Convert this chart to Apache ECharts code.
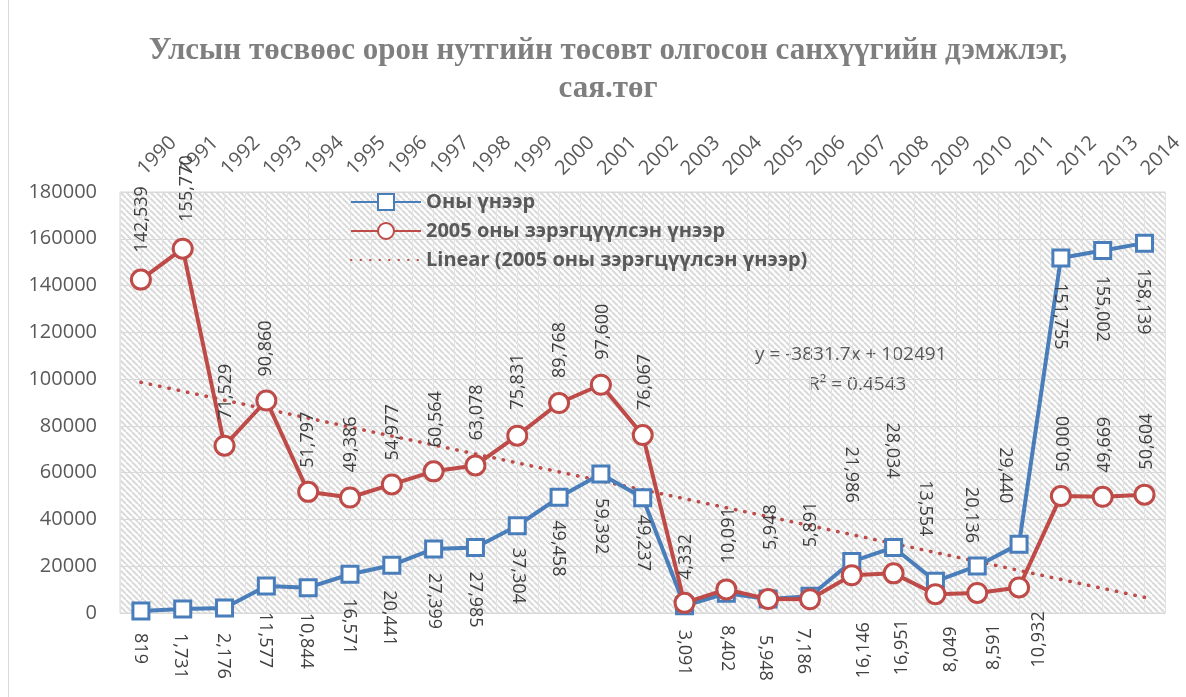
<!DOCTYPE html>
<html lang="mn">
<head>
    <meta charset="UTF-8">
    <title>Орон нутгийн санхүүгийн дэмжлэг</title>
    <script src="https://cdn.jsdelivr.net/npm/echarts@6/dist/echarts.min.js"></script>
    <style>
        html, body { margin: 0; padding: 0; background: #fff; }
    </style>
</head>
<body>
<div id="main" style="width: 1186px;height:697px;"></div>
<script>
    // он
    var years = ['1990', '1991', '1992', '1993', '1994', '1995', '1996', '1997', '1998', '1999',
        '2000', '2001', '2002', '2003', '2004', '2005', '2006', '2007', '2008', '2009',
        '2010', '2011', '2012', '2013', '2014'];
    // Оны үнээр
    var currentPrice = [819, 1731, 2176, 11577, 10844, 16571, 20441, 27399, 27985, 37304,
        49458, 59392, 49237, 3091, 8402, 5948, 7186, 21986, 28034, 13554,
        20136, 29440, 151755, 155002, 158139];
    // 2005 оны зэрэгцүүлсэн үнээр
    var constPrice = [142539, 155770, 71529, 90860, 51797, 49386, 54977, 60564, 63078, 75831,
        89768, 97600, 76067, 4332, 10091, 5948, 5891, 16146, 16951, 8049,
        8591, 10932, 50000, 49669, 50604];
    // шугаман тренд: эхний ба сүүлийн он
    var trendEnds = [98659, 6699];
    var yTicks = {min: 0, max: 180000, step: 20000};

    var blue = '#4A7EBB';
    var red = '#BE4B48';

    // шошгоны шилжилт [dx, dy] дэлгэц дээр (Excel дээр гараар зөөсөн)
    var blueLabelShift = [[-1, 22], [-3, 24], [-1, 25], [-1, 26], [-2, 25], [-1, 24], [-3, 25], [0, 24], [0, 24], [1, 22],
        [-1, 23], [0, 24], [0, 17], [0, 24], [1, 32], [-3, 36], [-7, 32], [-1, -115], [-1, -125], [-10, -101],
        [-6, -79], [-14, -97], [-1, 25], [-1, 25], [-1, 25]];
    var redLabelShift = [[1, -27], [4, -27], [1, -26], [0, -24], [0, -24], [1, -25], [1, -24], [2, -24], [1, -25], [1, -26],
        [1, -25], [2, -25], [2, -25], [1, -23], [3, -26], [3, -49], [1, -52], [12, 103], [8, 102], [15, 78],
        [17, 77], [20, 80], [3, -24], [2, -24], [2, -25]];

    // ташуу зураастай дэвсгэр
    var tile = document.createElement('canvas');
    tile.width = 6;
    tile.height = 6;
    var ctx = tile.getContext('2d');
    ctx.fillStyle = '#ffffff';
    ctx.fillRect(0, 0, 6, 6);
    ctx.strokeStyle = '#dadada';
    ctx.lineWidth = 2;
    for (var k = -1; k <= 1; k++) {
        ctx.beginPath();
        ctx.moveTo(k * 6, 0);
        ctx.lineTo(k * 6 + 6, 6);
        ctx.stroke();
    }

    var fmt = function (p) {
        return p.value.toLocaleString('en-US');
    };
    var labelFont = {fontFamily: 'Open Sans', fontSize: 18, color: '#404040'};

    var myChart = echarts.init(document.getElementById('main'));

    var option = {
        animation: false,
        title: {
            text: 'Улсын төсвөөс орон нутгийн төсөвт олгосон санхүүгийн дэмжлэг,\nсая.төг',
            left: 603,
            top: 27,
            textAlign: 'center',
            textStyle: {
                fontFamily: 'Liberation Serif',
                fontWeight: 'bold',
                fontSize: 31,
                lineHeight: 38,
                color: '#7F7F7F'
            }
        },
        legend: {
            orient: 'vertical',
            left: 345,
            top: 187,
            itemWidth: 70,
            itemHeight: 20,
            itemGap: 9,
            itemTextGap: 8,
            textStyle: {fontFamily: 'Open Sans', fontWeight: 'bold', fontSize: 20, color: '#595959'},
            data: ['Оны үнээр', '2005 оны зэрэгцүүлсэн үнээр', {
                name: 'Linear (2005 оны зэрэгцүүлсэн үнээр)',
                itemStyle: {color: 'transparent', borderColor: 'transparent', borderWidth: 0}
            }]
        },
        grid: {
            left: 120,
            right: 18,
            top: 192,
            bottom: 84,
            show: true,
            borderColor: '#d9d9d9',
            borderWidth: 1,
            backgroundColor: {image: tile, repeat: 'repeat'}
        },
        xAxis: [{
            type: 'category',
            position: 'top',
            data: years,
            boundaryGap: true,
            axisLine: {show: false},
            axisTick: {show: false},
            axisLabel: {
                rotate: 45,
                margin: 20,
                interval: 0,
                fontFamily: 'Open Sans',
                fontSize: 20,
                color: '#595959'
            },
            splitLine: {show: false}
        }, {
            // туслах тэнхлэг: хагас ангиллын босоо шугам
            type: 'value',
            min: 0,
            max: years.length * 2,
            interval: 1,
            position: 'bottom',
            axisLine: {show: false},
            axisTick: {show: false},
            axisLabel: {show: false},
            splitLine: {show: true, lineStyle: {color: '#e3e3e3', width: 1}}
        }],
        yAxis: {
            type: 'value',
            min: yTicks.min,
            max: yTicks.max,
            interval: yTicks.step,
            axisLine: {show: false},
            axisTick: {show: false},
            axisLabel: {
                margin: 23,
                fontFamily: 'Open Sans',
                fontSize: 20,
                color: '#595959',
                formatter: function (v) { return String(v); }
            },
            splitLine: {lineStyle: {color: '#d9d9d9', width: 1}}
        },
        series: [{
            name: 'Linear (2005 оны зэрэгцүүлсэн үнээр)',
            type: 'line',
            xAxisIndex: 0,
            symbol: 'none',
            data: [[0, trendEnds[0]], [years.length - 1, trendEnds[1]]],
            lineStyle: {color: red, width: 3.5, type: [0.5, 9], cap: 'round'},
            itemStyle: {color: red},
            z: 2
        }, {
            name: 'Оны үнээр',
            type: 'line',
            xAxisIndex: 0,
            data: currentPrice,
            symbol: 'rect',
            symbolSize: 16,
            lineStyle: {color: blue, width: 4},
            itemStyle: {color: '#ffffff', borderColor: blue, borderWidth: 3},
            label: Object.assign({
                show: true,
                position: 'inside',
                rotate: -90,
                align: 'left',
                verticalAlign: 'middle',
                formatter: fmt
            }, labelFont),
            // шилжилт эргүүлсэн тэнхлэгээр хэрэглэгдэнэ
            labelLayout: function (p) {
                var s = blueLabelShift[p.dataIndex];
                return {dx: s[1], dy: -s[0]};
            },
            z: 3
        }, {
            name: '2005 оны зэрэгцүүлсэн үнээр',
            type: 'line',
            xAxisIndex: 0,
            data: constPrice,
            symbol: 'circle',
            symbolSize: 19,
            lineStyle: {color: red, width: 4},
            itemStyle: {color: '#ffffff', borderColor: red, borderWidth: 3},
            label: Object.assign({
                show: true,
                position: 'inside',
                rotate: 90,
                align: 'left',
                verticalAlign: 'middle',
                formatter: fmt
            }, labelFont),
            labelLayout: function (p) {
                var s = redLabelShift[p.dataIndex];
                return {dx: -s[1], dy: s[0]};
            },
            z: 4
        }],
        graphic: [{
            type: 'line',
            shape: {x1: 8.5, y1: 0, x2: 8.5, y2: 697},
            style: {stroke: '#d9d9d9', lineWidth: 1}
        }, {
            type: 'text',
            left: 755,
            top: 345,
            style: {text: 'y = -3831.7x + 102491', fontFamily: 'Open Sans', fontSize: 19, fill: '#595959'}
        }, {
            type: 'text',
            left: 808,
            top: 375,
            style: {text: 'R² = 0.4543', fontFamily: 'Open Sans', fontSize: 19, fill: '#595959'}
        }]
    };

    myChart.setOption(option);
</script>
</body>
</html>
